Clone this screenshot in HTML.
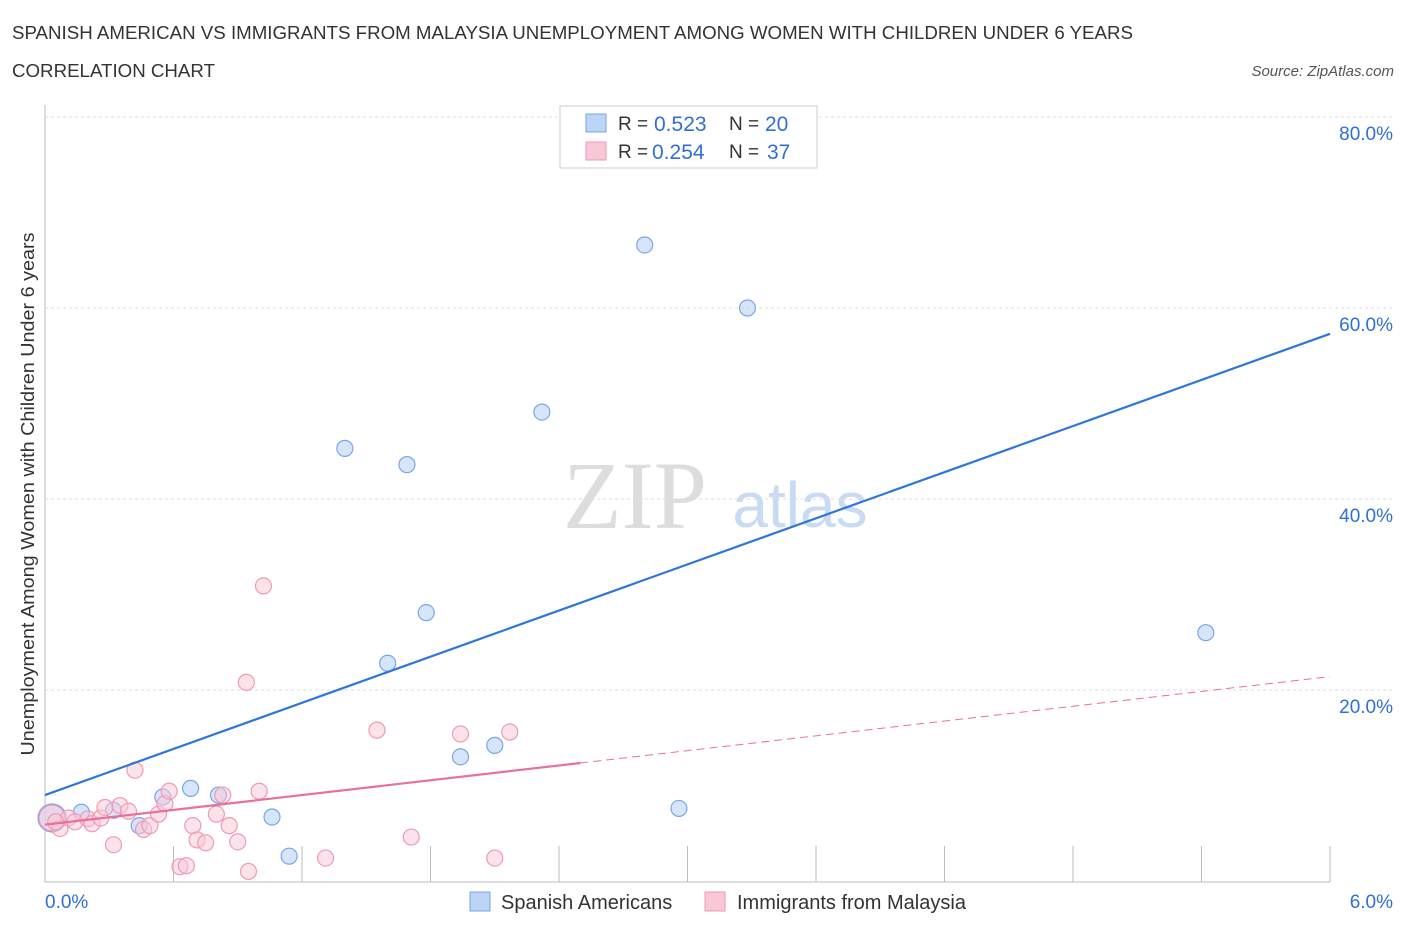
<!DOCTYPE html>
<html><head><meta charset="utf-8"><style>
body{margin:0;background:#fff;font-family:"Liberation Sans",sans-serif;}
</style></head><body>
<svg width="1406" height="930" xmlns="http://www.w3.org/2000/svg" id="svg">
<text x="12" y="39" font-size="18" fill="#333" textLength="1121" lengthAdjust="spacingAndGlyphs">SPANISH AMERICAN VS IMMIGRANTS FROM MALAYSIA UNEMPLOYMENT AMONG WOMEN WITH CHILDREN UNDER 6 YEARS</text>
<text x="12" y="77" font-size="18" fill="#333" textLength="203" lengthAdjust="spacingAndGlyphs">CORRELATION CHART</text>
<text x="1394" y="76" font-size="15" fill="#555" font-style="italic" text-anchor="end">Source: ZipAtlas.com</text>
<text x="635" y="528" font-size="96" fill="#ddd" font-family="Liberation Serif,serif" text-anchor="middle">ZIP</text>
<text x="800" y="527" font-size="64" fill="#c9daf3" text-anchor="middle">atlas</text>
<text transform="translate(34,494) rotate(-90)" font-size="18" fill="#333" text-anchor="middle" textLength="523" lengthAdjust="spacingAndGlyphs">Unemployment Among Women with Children Under 6 years</text>
<g id="grid"></g><g id="marks"></g>
<g>
<rect x="560" y="106" width="257" height="62" fill="#fff" stroke="#ccc"/>
<rect x="586" y="114" width="20" height="18" fill="#bcd4f6" stroke="#7aa6e6"/>
<rect x="586" y="142" width="20" height="18" fill="#f9c8d6" stroke="#ee9ab5"/>
<text x="618" y="130" font-size="19" fill="#333">R =</text><text x="654" y="131" font-size="21" fill="#2f6fd6">0.523</text>
<text x="729" y="130" font-size="19" fill="#333">N =</text><text x="765" y="131" font-size="21" fill="#2f6fd6">20</text>
<text x="618" y="158" font-size="19" fill="#333">R =</text><text x="652" y="159" font-size="21" fill="#2f6fd6">0.254</text>
<text x="729" y="158" font-size="19" fill="#333">N =</text><text x="767" y="159" font-size="21" fill="#2f6fd6">37</text>
</g>
<g>
<rect x="470" y="892" width="20" height="19" fill="#bcd4f6" stroke="#7aa6e6"/>
<text x="501" y="909" font-size="20" fill="#333">Spanish Americans</text>
<rect x="705" y="892" width="20" height="19" fill="#f9c8d6" stroke="#ee9ab5"/>
<text x="737" y="909" font-size="20" fill="#333">Immigrants from Malaysia</text>
</g>
<text x="45" y="908" font-size="19" fill="#2f6fd6">0.0%</text>
<text x="1393" y="908" font-size="19" fill="#2f6fd6" text-anchor="end">6.0%</text>
</svg>
<script>
const yTicks=[20,40,60,80];
const blueX=[0.033,0.17,0.32,0.44,0.55,0.68,0.81,1.06,1.14,1.40,1.60,1.69,1.78,1.94,2.10,2.32,2.80,2.96,3.28,5.42];
const blueY=[6.6,7.2,7.4,5.8,8.8,9.7,9.0,6.7,2.6,45.3,22.8,43.6,28.1,13.0,14.2,49.1,66.6,7.6,60.0,26.0];
const pinkX=[0.033,0.07,0.11,0.14,0.20,0.22,0.26,0.28,0.32,0.35,0.39,0.42,0.46,0.49,0.53,0.56,0.58,0.63,0.66,0.69,0.71,0.75,0.80,0.83,0.86,0.90,0.94,0.95,1.00,1.02,1.31,1.55,1.71,1.94,2.10,2.17,0.05];
const pinkY=[6.6,5.5,6.6,6.2,6.5,6.0,6.6,7.7,3.8,7.9,7.3,11.6,5.4,5.8,7.0,8.1,9.4,1.5,1.6,5.8,4.3,4.0,7.0,9.0,5.8,4.1,20.8,1.0,9.4,30.9,2.4,15.8,4.6,15.4,2.4,15.6,6.2];
const blueTrend=[9.0,57.3];
const pinkTrend=[5.9,21.4];
const pinkSolidEnd=2.5;
const X=v=>45+v*214.17, Y=v=>881-v*9.55;
const NS="http://www.w3.org/2000/svg";
function mk(t,a,p){const e=document.createElementNS(NS,t);for(const k in a)e.setAttribute(k,a[k]);p.appendChild(e);return e;}
const g=document.getElementById('grid'), m=document.getElementById('marks');
let ax=mk('line',{x1:45,y1:105,x2:45,y2:882,stroke:'#bbb'},g);


let bx=mk('line',{x1:45,y1:882,x2:1330,y2:882,stroke:'#bbb'},g);


for(let i=1;i<=10;i++){const x=45+i*128.5;const t=mk('line',{x1:x,y1:846,x2:x,y2:882,stroke:'#bbb'},g);

}
yTicks.forEach(v=>{const l=mk('line',{x1:45,y1:Y(v),x2:1393,y2:Y(v),stroke:'#ddd','stroke-dasharray':'3,3'},g);


const t=mk('text',{x:1393,y:Y(v)+23,'font-size':19,fill:'#2f6fd6','text-anchor':'end'},g);t.textContent=v.toFixed(1)+'%';

});
blueX.forEach((v,i)=>{const c=mk('circle',{cx:X(v),cy:Y(blueY[i]),r:i==0?14:8,fill:'rgba(188,212,246,0.6)',stroke:'#7aa6e6','stroke-width':1.2},m);

});
pinkX.forEach((v,i)=>{const c=mk('circle',{cx:X(v),cy:Y(pinkY[i]),r:i==0?13:8,fill:'rgba(249,200,214,0.5)',stroke:'#ee9ab5','stroke-width':1.2},m);

});
const pt=x=>pinkTrend[0]+(pinkTrend[1]-pinkTrend[0])*x/6;
let l1=mk('line',{x1:X(0),y1:Y(blueTrend[0]),x2:X(6),y2:Y(blueTrend[1]),stroke:'#2f76d9','stroke-width':2.2},m);


let l2=mk('line',{x1:X(0),y1:Y(pt(0)),x2:X(pinkSolidEnd),y2:Y(pt(pinkSolidEnd)),stroke:'#e8709a','stroke-width':2.2},m);


let l3=mk('line',{x1:X(pinkSolidEnd),y1:Y(pt(pinkSolidEnd)),x2:X(6),y2:Y(pt(6)),stroke:'#e8709a','stroke-width':1,'stroke-dasharray':'8,5'},m);


</script>
</body></html>
